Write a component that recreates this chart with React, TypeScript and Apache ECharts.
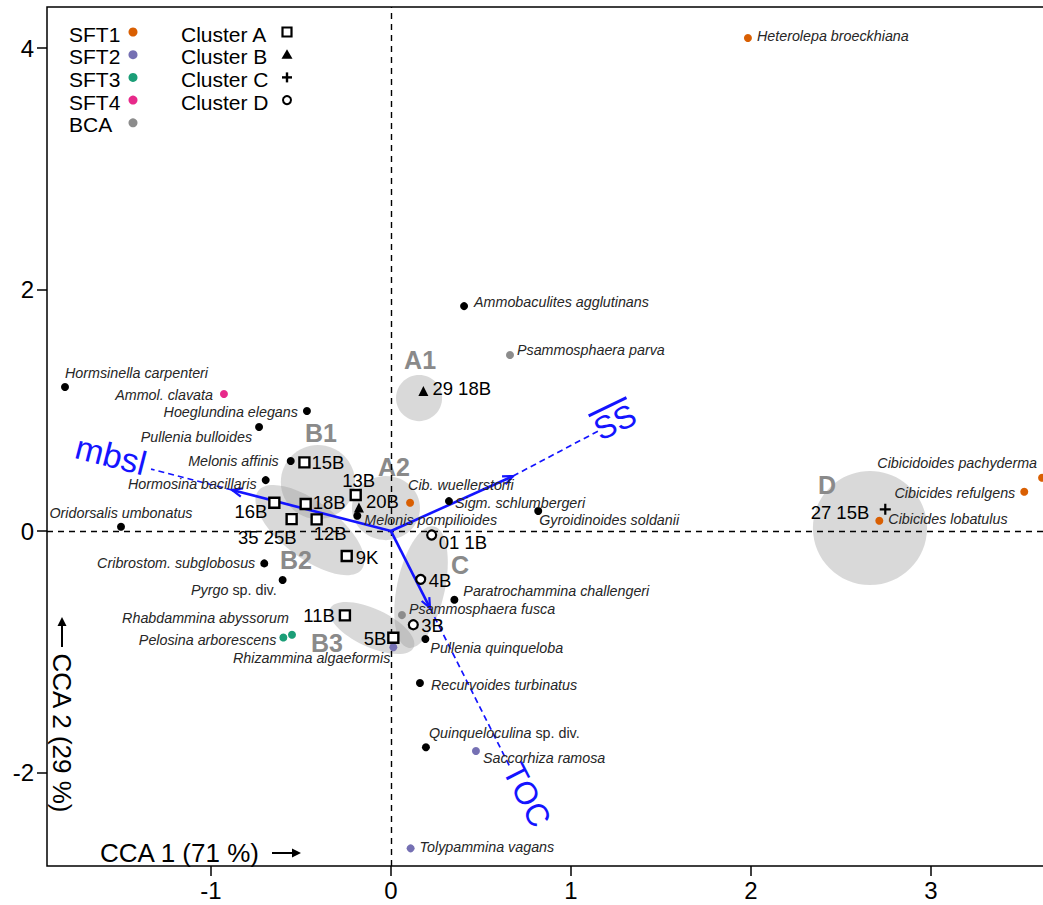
import React, { useEffect, useRef } from "react";
import * as echarts from "echarts";

// ---------- axes ----------
const X_TICKS = [-1, 0, 1, 2, 3];
const Y_TICKS = [-2, 0, 2, 4];
const X_MIN = -1.911;
const X_MAX = 3.7;
const Y_MIN = -2.774;
const Y_MAX = 4.34;

// ---------- taxa scores [name, CCA1, CCA2] ----------
type Pt = [string, number, number];

const SFT1: Pt[] = [
  ["Heterolepa broeckhiana", 1.983, 4.083],
  ["Cib. wuellerstorfi", 0.106, 0.234],
  ["Cibicidoides pachyderma", 3.617, 0.441],
  ["Cibicides refulgens", 3.518, 0.325],
  ["Cibicides lobatulus", 2.713, 0.085],
];
const SFT2: Pt[] = [
  ["Rhizammina algaeformis", 0.013, -0.963],
  ["Saccorhiza ramosa", 0.472, -1.822],
  ["Tolypammina vagans", 0.109, -2.628],
];
const SFT3: Pt[] = [
  ["Pelosina arborescens", -0.598, -0.881],
  ["Rhabdammina abyssorum", -0.55, -0.859],
];
const SFT4: Pt[] = [["Ammol. clavata", -0.928, 1.135]];
const BCA: Pt[] = [
  ["Psammosphaera parva", 0.661, 1.458],
  ["Psammosphaera fusca", 0.061, -0.696],
];
const OTHER_TAXA: Pt[] = [
  ["Ammobaculites agglutinans", 0.406, 1.863],
  ["Hormsinella carpenteri", -1.811, 1.193],
  ["Hoeglundina elegans", -0.467, 0.994],
  ["Pullenia bulloides", -0.733, 0.861],
  ["Melonis affinis", -0.557, 0.58],
  ["Hormosina bacillaris", -0.696, 0.422],
  ["Oridorsalis umbonatus", -1.5, 0.036],
  ["Melonis pompilioides", -0.187, 0.127],
  ["Sigm. schlumbergeri", 0.322, 0.248],
  ["Gyroidinoides soldanii", 0.818, 0.166],
  ["Cribrostom. subglobosus", -0.704, -0.268],
  ["Pyrgo sp. div.", -0.602, -0.406],
  ["Paratrochammina challengeri", 0.352, -0.569],
  ["Pullenia quinqueloba", 0.191, -0.894],
  ["Recurvoides turbinatus", 0.161, -1.259],
  ["Quinqueloculina sp. div.", 0.194, -1.79],
];

// ---------- sample scores ----------
const CLUSTER_A: Pt[] = [
  ["15B", -0.481, 0.569],
  ["16B", -0.648, 0.234],
  ["18B", -0.474, 0.224],
  ["35 25B", -0.552, 0.099],
  ["12B", -0.413, 0.097],
  ["13B", -0.196, 0.298],
  ["9K", -0.246, -0.207],
  ["11B", -0.256, -0.698],
  ["5B", 0.013, -0.884],
];
const CLUSTER_B: Pt[] = [
  ["20B", -0.178, 0.196],
  ["29 18B", 0.18, 1.159],
];
const CLUSTER_C: Pt[] = [["27 15B", 2.746, 0.18]];
const CLUSTER_D: Pt[] = [
  ["01 1B", 0.226, -0.033],
  ["4B", 0.165, -0.4],
  ["3B", 0.124, -0.776],
];

// ---------- environmental vectors ----------
const ENV_NAMES = ["mbsl", "SS", "TOC"];
const ENV_TIP: [number, number][] = [
  [-0.883, 0.34],
  [0.678, 0.455],
  [0.217, -0.638],
];
const ENV_END: [number, number][] = [
  [-1.333, 0.513],
  [1.161, 0.836],
  [0.661, -1.954],
];

// ---------- group hulls (centre, semi-major axis vector, semi-minor length; data units) ----------
const HULL_NAMES = ["B2", "B1", "A2", "A1", "C", "B3", "D"];
const HULL_CENTER: [number, number][] = [
  [-0.45, 0.008],
  [-0.406, 0.406],
  [-0.028, 0.19],
  [0.156, 1.101],
  [0.167, -0.464],
  [-0.106, -0.803],
  [2.661, 0.025],
];
const HULL_AXIS: [number, number][] = [
  [0.288, -0.324],
  [0.206, 0],
  [0.189, 0],
  [0.128, 0],
  [-0.072, -0.502],
  [0.232, -0.161],
  [0.317, 0],
];
const HULL_MINOR = [0.156, 0.206, 0.178, 0.128, 0.133, 0.106, 0.317];

// ---------- legend ----------
const LEGEND_SFT = ["SFT1", "SFT2", "SFT3", "SFT4", "BCA"];
const LEGEND_CLUSTER = ["Cluster A", "Cluster B", "Cluster C", "Cluster D"];

// ---------- styles ----------
const COLORS: Record<string, string> = {
  SFT1: "#D95F02",
  SFT2: "#7570B3",
  SFT3: "#1B9E77",
  SFT4: "#E7298A",
  BCA: "#8C8C8C",
  Other: "#000000",
};
const BLUE = "#1414ff";
const FONT = "'Liberation Sans', Arial, Helvetica, sans-serif";
const PLUS_PATH = "path://M4,0H6V4H10V6H6V10H4V6H0V4H4Z";

type Spot = [string, number, number];
const TAXON_LABEL: Record<string, Spot> = {
  "Heterolepa broeckhiana": ["left", 9, -2],
  "Ammobaculites agglutinans": ["left", 10, -4],
  "Psammosphaera parva": ["left", 7, -5],
  "Hormsinella carpenteri": ["left", 0, -14],
  "Ammol. clavata": ["right", -11, 1],
  "Hoeglundina elegans": ["right", -9, 1],
  "Pullenia bulloides": ["right", -7, 10],
  "Melonis affinis": ["right", -12, 0],
  "Hormosina bacillaris": ["right", -9, 4],
  "Oridorsalis umbonatus": ["center", 0, -14],
  "Melonis pompilioides": ["left", 7, 4],
  "Cib. wuellerstorfi": ["left", -2, -18],
  "Sigm. schlumbergeri": ["left", 6, 2],
  "Gyroidinoides soldanii": ["left", 1, 9],
  "Cribrostom. subglobosus": ["right", -9, 0],
  "Pyrgo sp. div.": ["right", -6, 10],
  "Paratrochammina challengeri": ["left", 9, -9],
  "Psammosphaera fusca": ["left", 7, -6],
  "Rhabdammina abyssorum": ["right", -3, -17],
  "Pelosina arborescens": ["right", -7, 3],
  "Rhizammina algaeformis": ["right", -3, 11],
  "Pullenia quinqueloba": ["left", 5, 9],
  "Recurvoides turbinatus": ["left", 11, 2],
  "Quinqueloculina sp. div.": ["left", 3, -14],
  "Saccorhiza ramosa": ["left", 7, 7],
  "Tolypammina vagans": ["left", 9, -1],
  "Cibicidoides pachyderma": ["right", -5, -15],
  "Cibicides refulgens": ["right", -9, 1],
  "Cibicides lobatulus": ["left", 9, -2],
};
const SAMPLE_LABEL: Record<string, Spot> = {
  "15B": ["left", 7, 0],
  "16B": ["right", -7, 9],
  "18B": ["left", 7, -1],
  "35 25B": ["right", 5, 18],
  "12B": ["left", -3, 14],
  "13B": ["center", 3, -15],
  "9K": ["left", 9, 1],
  "11B": ["right", -10, 0],
  "5B": ["right", -7, 1],
  "20B": ["left", 7, -6],
  "29 18B": ["left", 9, -3],
  "27 15B": ["right", -16, 3],
  "01 1B": ["left", 7, 7],
  "4B": ["left", 8, 1],
  "3B": ["left", 8, 1],
};
// label offset from dashed end [dx, dy, rotation]
const ENV_LABEL: Record<string, [number, number, number]> = {
  mbsl: [-40, -14, -0.25],
  SS: [15, -8, 0.45],
  TOC: [17, 28, -1.1],
};
const HULL_LABEL: Record<string, [number, number]> = {
  A1: [1, -38],
  B1: [3, -49],
  A2: [8, -41],
  B2: [-14, 30],
  C: [39, -22],
  B3: [-45, 15],
  D: [-43, -43],
};

const TAXON_FS = 14.3;
const SAMPLE_FS = 18.5;

function taxonItem(p: Pt) {
  const [name, x, y] = p;
  const [align, dx, dy] = TAXON_LABEL[name] ?? ["left", 8, 0];
  const sp = name.indexOf(" sp. ");
  const base = { fontSize: TAXON_FS, fontFamily: FONT, color: "#262626" };
  const label: any = {
    show: true,
    position: "inside",
    align,
    verticalAlign: "middle",
    offset: [dx, dy],
    ...base,
    fontStyle: "italic",
  };
  if (sp >= 0) {
    label.formatter = `{i|${name.slice(0, sp)}}{n|${name.slice(sp)}}`;
    label.rich = {
      i: { ...base, fontStyle: "italic" },
      n: { ...base, fontStyle: "normal" },
    };
  } else {
    label.formatter = name;
  }
  return { name, value: [x, y], label };
}

function sampleItem(p: Pt) {
  const [name, x, y] = p;
  const [align, dx, dy] = SAMPLE_LABEL[name] ?? ["left", 8, 0];
  return {
    name,
    value: [x, y],
    label: {
      show: true,
      position: "inside",
      align,
      verticalAlign: "middle",
      offset: [dx, dy],
      formatter: name,
      fontSize: SAMPLE_FS,
      fontFamily: FONT,
      color: "#000",
    },
  };
}

function taxonSeries(name: string, pts: Pt[], extra: any = {}) {
  return {
    type: "scatter",
    name,
    data: pts.map(taxonItem),
    symbol: "circle",
    symbolSize: 8,
    itemStyle: { color: COLORS[name], opacity: 1 },
    z: 6,
    silent: true,
    emphasis: { disabled: true },
    ...extra,
  };
}

function sampleSeries(name: string, pts: Pt[], symbol: string, size: number, style: any) {
  return {
    type: "scatter",
    name,
    data: pts.map(sampleItem),
    symbol,
    symbolSize: size,
    itemStyle: { opacity: 1, ...style },
    z: 7,
    silent: true,
    emphasis: { disabled: true },
  };
}

function buildOption(): any {
  const hullData = HULL_NAMES.map((n, i) => [
    HULL_CENTER[i][0],
    HULL_CENTER[i][1],
    HULL_AXIS[i][0],
    HULL_AXIS[i][1],
    HULL_MINOR[i],
    i,
  ]);
  const envData = ENV_NAMES.map((n, i) => [ENV_TIP[i][0], ENV_TIP[i][1], ENV_END[i][0], ENV_END[i][1], i]);

  const legendEls: any[] = [];
  const rowY = (i: number) => 34 + 22.7 * i;
  LEGEND_SFT.forEach((name, i) => {
    legendEls.push({
      type: "text",
      x: 69,
      y: rowY(i),
      style: { text: name, font: `21px ${FONT}`, fill: "#000", verticalAlign: "middle" },
    });
    legendEls.push({
      type: "circle",
      shape: { cx: 133, cy: rowY(i) - 2, r: 4.5 },
      style: { fill: COLORS[name] },
    });
  });
  LEGEND_CLUSTER.forEach((name, i) => {
    const y = rowY(i) - 2;
    legendEls.push({
      type: "text",
      x: 181,
      y: rowY(i),
      style: { text: name, font: `21px ${FONT}`, fill: "#000", verticalAlign: "middle" },
    });
    if (i === 0)
      legendEls.push({
        type: "rect",
        shape: { x: 282.5, y: y - 4.5, width: 9, height: 9 },
        style: { fill: "#fff", stroke: "#000", lineWidth: 2.2 },
      });
    if (i === 1)
      legendEls.push({
        type: "polygon",
        shape: { points: [[287, y - 5.5], [281.5, y + 4], [292.5, y + 4]] },
        style: { fill: "#000" },
      });
    if (i === 2) {
      legendEls.push({ type: "rect", shape: { x: 282, y: y - 1.2, width: 10, height: 2.4 }, style: { fill: "#000" } });
      legendEls.push({ type: "rect", shape: { x: 285.8, y: y - 5, width: 2.4, height: 10 }, style: { fill: "#000" } });
    }
    if (i === 3)
      legendEls.push({
        type: "circle",
        shape: { cx: 287, cy: y, r: 4 },
        style: { fill: "#fff", stroke: "#000", lineWidth: 2 },
      });
  });

  const titleEls: any[] = [
    {
      type: "text",
      x: 100,
      y: 853,
      style: { text: "CCA 1 (71 %)", font: `26px ${FONT}`, fill: "#000", verticalAlign: "middle" },
    },
    { type: "line", shape: { x1: 272, y1: 853, x2: 294, y2: 853 }, style: { stroke: "#000", lineWidth: 2 } },
    { type: "polygon", shape: { points: [[301, 853], [292, 848.5], [292, 857.5]] }, style: { fill: "#000" } },
    {
      type: "text",
      x: 62,
      y: 733,
      rotation: -Math.PI / 2,
      style: {
        text: "CCA 2 (29 %)",
        font: `26px ${FONT}`,
        fill: "#000",
        align: "center",
        verticalAlign: "middle",
      },
    },
    { type: "line", shape: { x1: 62, y1: 647, x2: 62, y2: 625 }, style: { stroke: "#000", lineWidth: 2 } },
    { type: "polygon", shape: { points: [[62, 617], [57.5, 626], [66.5, 626]] }, style: { fill: "#000" } },
  ];

  return {
    animation: false,
    backgroundColor: "#fff",
    grid: {
      left: 47,
      top: 7,
      width: 1010,
      height: 859,
      show: true,
      borderColor: "#000",
      borderWidth: 1.5,
      containLabel: false,
    },
    xAxis: {
      type: "value",
      min: X_MIN,
      max: X_MAX,
      axisLine: { show: false, onZero: false },
      splitLine: { show: false },
      axisTick: {
        show: true,
        inside: false,
        length: 10,
        lineStyle: { color: "#000", width: 1.5 },
        customValues: X_TICKS,
      },
      axisLabel: {
        customValues: X_TICKS,
        fontSize: 24,
        fontFamily: FONT,
        color: "#000",
        margin: 12,
      },
    },
    yAxis: {
      type: "value",
      min: Y_MIN,
      max: Y_MAX,
      axisLine: { show: false, onZero: false },
      splitLine: { show: false },
      axisTick: {
        show: true,
        inside: false,
        length: 10,
        lineStyle: { color: "#000", width: 1.5 },
        customValues: Y_TICKS,
      },
      axisLabel: {
        customValues: Y_TICKS,
        fontSize: 24,
        fontFamily: FONT,
        color: "#000",
        margin: 13,
      },
    },
    graphic: { elements: [...legendEls, ...titleEls] },
    series: [
      {
        type: "custom",
        name: "hulls",
        z: 1,
        silent: true,
        data: hullData,
        renderItem: (params: any, api: any) => {
          const c = api.coord([api.value(0), api.value(1)]);
          const a = api.coord([api.value(0) + api.value(2), api.value(1) + api.value(3)]);
          const dx = a[0] - c[0];
          const dy = a[1] - c[1];
          const rx = Math.hypot(dx, dy);
          const ry = api.size([api.value(4), 0])[0];
          const ang = Math.atan2(dy, dx);
          const name = HULL_NAMES[api.value(5)];
          const off = HULL_LABEL[name];
          return {
            type: "group",
            children: [
              {
                type: "ellipse",
                x: c[0],
                y: c[1],
                rotation: -ang,
                shape: { cx: 0, cy: 0, rx, ry },
                style: { fill: "rgba(150,150,150,0.36)" },
              },
              {
                type: "text",
                z2: 20,
                x: c[0] + off[0],
                y: c[1] + off[1],
                style: {
                  text: name,
                  font: `bold 25px ${FONT}`,
                  fill: "#8a8a8a",
                  align: "center",
                  verticalAlign: "middle",
                },
              },
            ],
          };
        },
      },
      {
        type: "custom",
        name: "environment",
        z: 4,
        silent: true,
        data: envData,
        renderItem: (params: any, api: any) => {
          const o = api.coord([0, 0]);
          const t = api.coord([api.value(0), api.value(1)]);
          const e = api.coord([api.value(2), api.value(3)]);
          const ang = Math.atan2(t[1] - o[1], t[0] - o[0]);
          const hl = 11;
          const ha = 0.4;
          const h1 = [t[0] - hl * Math.cos(ang - ha), t[1] - hl * Math.sin(ang - ha)];
          const h2 = [t[0] - hl * Math.cos(ang + ha), t[1] - hl * Math.sin(ang + ha)];
          const name = ENV_NAMES[api.value(4)];
          const [lx, ly, rot] = ENV_LABEL[name];
          const labelChildren: any[] = [
            {
              type: "text",
              style: {
                text: name,
                x: 0,
                y: 0,
                font: `${name === "mbsl" ? 34 : 32}px ${FONT}`,
                fill: BLUE,
                align: "center",
                verticalAlign: "middle",
              },
            },
          ];
          if (name === "SS") {
            labelChildren.push({
              type: "line",
              shape: { x1: -21, y1: -17, x2: 21, y2: -17 },
              style: { stroke: BLUE, lineWidth: 3 },
            });
          }
          return {
            type: "group",
            children: [
              { type: "line", shape: { x1: o[0], y1: o[1], x2: t[0], y2: t[1] }, style: { stroke: BLUE, lineWidth: 2.6 } },
              { type: "polyline", shape: { points: [h1, t, h2] }, style: { stroke: BLUE, lineWidth: 2.2, fill: null } },
              {
                type: "line",
                shape: { x1: t[0], y1: t[1], x2: e[0], y2: e[1] },
                style: { stroke: BLUE, lineWidth: 1.7, lineDash: [6, 4] },
              },
              { type: "group", x: e[0] + lx, y: e[1] + ly, rotation: rot, children: labelChildren },
            ],
          };
        },
      },
      taxonSeries("Other", OTHER_TAXA, {
        markLine: {
          silent: true,
          symbol: ["none", "none"],
          label: { show: false },
          lineStyle: { color: "#000", width: 1.4, type: [6, 5] },
          data: [{ xAxis: 0 }, { yAxis: 0 }],
          z: 3,
        },
      }),
      taxonSeries("SFT1", SFT1),
      taxonSeries("SFT2", SFT2),
      taxonSeries("SFT3", SFT3),
      taxonSeries("SFT4", SFT4),
      taxonSeries("BCA", BCA),
      sampleSeries("Cluster A", CLUSTER_A, "rect", 10, { color: "#fff", borderColor: "#000", borderWidth: 2.4 }),
      sampleSeries("Cluster B", CLUSTER_B, "triangle", 10, { color: "#000" }),
      sampleSeries("Cluster C", CLUSTER_C, PLUS_PATH, 11, { color: "#000" }),
      sampleSeries("Cluster D", CLUSTER_D, "circle", 9, { color: "#fff", borderColor: "#000", borderWidth: 2.2 }),
    ],
  };
}

export default function App() {
  const ref = useRef<HTMLDivElement>(null);
  useEffect(() => {
    const el = ref.current;
    if (!el) return;
    document.body.style.overflow = "hidden";
    const chart = echarts.init(el, null, { renderer: "svg" });
    chart.setOption(buildOption());
    return () => chart.dispose();
  }, []);
  return (
    <div
      ref={ref}
      style={{ position: "fixed", left: 0, top: 0, width: 1060, height: 905, background: "#fff" }}
    />
  );
}
